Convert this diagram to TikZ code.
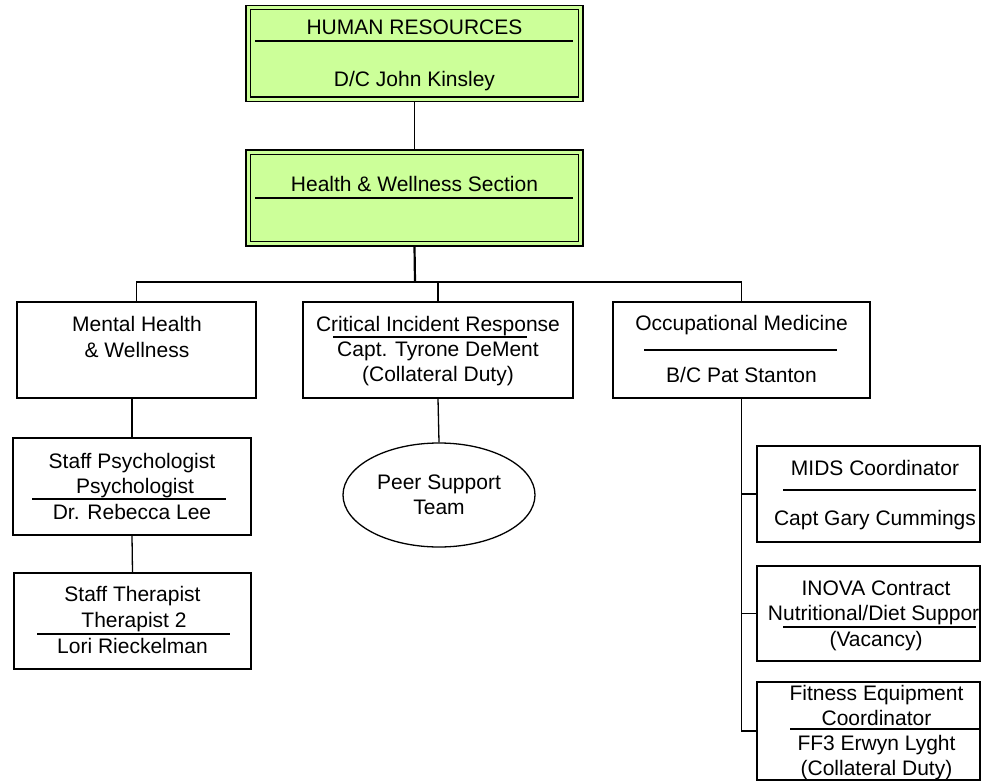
\documentclass[tikz,border=0pt]{standalone}
\usepackage{fontspec}
\setmainfont{Liberation Sans}
\usetikzlibrary{shapes.geometric}
\definecolor{hrgreen}{RGB}{204,255,153}
\tikzset{
  every picture/.style={x=1pt,y=-1pt},
  boxr/.style={draw=black,line width=1.3pt,fill=white,inner sep=0pt,rectangle},
  greenbox/.style={draw=black,line width=1.4pt,fill=hrgreen,inner sep=0pt,rectangle,minimum width=337pt,minimum height=96pt},
  txt/.style={inner sep=0pt,text height=15pt,text depth=0pt,font=\fontsize{21}{25}\selectfont},
  sep/.style={line width=1.3pt},
  conn/.style={line width=1.3pt},
}
\begin{document}
\begin{tikzpicture}
\useasboundingbox[fill=white] (0,0) rectangle (981,781);

% Human Resources
\node[greenbox] (hr) at (414.5,53.5) {};
\draw[line width=1.4pt] ([shift={(5,5)}]hr.north west) rectangle ([shift={(-5,-5)}]hr.south east);
\draw[sep] (255,41) -- (573,41);
\node[txt] (hrt1) at (414.5,27) {HUMAN RESOURCES};
\node[txt] (hrt2) at (414.5,79) {D/C John Kinsley};

% Health & Wellness
\node[greenbox] (hw) at (414.5,198) {};
\draw[line width=1.4pt] ([shift={(5,5)}]hw.north west) rectangle ([shift={(-5,-5)}]hw.south east);
\draw[sep] (255,198) -- (573,198);
\node[txt] (hwt1) at (414.5,184) {Health \& Wellness Section};

% Level 2
\node[boxr,minimum width=239pt,minimum height=96pt] (mh) at (136.5,350) {};
\node[txt] (mht1) at (137,324) {Mental Health};
\node[txt] (mht2) at (137,350) {\& Wellness};

\node[boxr,minimum width=270pt,minimum height=96pt] (cir) at (438,350) {};
\node[txt] (cirt1) at (438,324) {Critical Incident Response};
\draw[sep] (333,337) -- (527,337);
\node[txt] (cirt2) at (438,349) {Capt. Tyrone DeMent};
\node[txt] (cirt3) at (438,374) {(Collateral Duty)};

\node[boxr,minimum width=257pt,minimum height=96pt] (om) at (741.5,350) {};
\node[txt] (omt1) at (741.5,323) {Occupational Medicine};
\draw[sep] (644,350) -- (837,350);
\node[txt] (omt2) at (741.5,375) {B/C Pat Stanton};

% Mental health chain
\node[boxr,minimum width=238pt,minimum height=97pt] (sp) at (132,486.5) {};
\node[txt] (spt1) at (132,461) {Staff Psychologist};
\node[txt] (spt2) at (135,486) {Psychologist};
\draw[sep] (32,499) -- (226,499);
\node[txt] (spt3) at (132,512) {Dr. Rebecca Lee};

\node[boxr,minimum width=237pt,minimum height=96pt] (st) at (132.5,621) {};
\node[txt] (stt1) at (132.5,594) {Staff Therapist};
\node[txt] (stt2) at (134,620) {Therapist 2};
\draw[sep] (37,634) -- (230,634);
\node[txt] (stt3) at (132.5,646) {Lori Rieckelman};

% Peer support
\node[draw,line width=1.3pt,ellipse,minimum width=192pt,minimum height=104pt,inner sep=0pt] (ps) at (439,495) {};
\node[txt] (pst1) at (439,482) {Peer Support};
\node[txt] (pst2) at (439,507) {Team};

% Occupational medicine chain
\node[boxr,minimum width=223pt,minimum height=96pt] (mids) at (868.5,494) {};
\node[txt] (midst1) at (875,468) {MIDS Coordinator};
\draw[sep] (783,490) -- (976,490);
\node[txt] (midst2) at (875,518) {Capt Gary Cummings};

\node[boxr,minimum width=223pt,minimum height=95pt] (inova) at (868.5,613.5) {};
\node[txt] (inovat1) at (876,588) {INOVA Contract};
\begin{scope}
\clip (757,566) rectangle (979,661);
\node[txt] (inovat2) at (876.5,613) {Nutritional/Diet Support};
\end{scope}
\draw[sep] (783,627) -- (976,627);
\node[txt] (inovat3) at (876,639) {(Vacancy)};

\node[boxr,minimum width=223pt,minimum height=98pt] (fit) at (868.5,731) {};
\node[txt] (fitt1) at (876.5,693) {Fitness Equipment};
\node[txt] (fitt2) at (876.5,718) {Coordinator};
\draw[sep] (790,729) -- (980,729);
\node[txt] (fitt3) at (876.5,743) {FF3 Erwyn Lyght};
\node[txt] (fitt4) at (876.5,768) {(Collateral Duty)};

% Connectors
\coordinate (bus) at (415,282);
\draw[conn] (hr.south) -- (hw.north);
\draw[line width=2.2pt] (hw.south) -- (bus);
\draw[conn] (mh.north) |- (bus) -| (om.north);
\draw[conn] (cir.north) -- (cir.north |- bus);
\draw[conn] (sp.north) -- (sp.north |- mh.south);
\draw[conn] (sp.south) -- (st.north);
\draw[conn] (cir.south) -- (ps.north);
\coordinate (omend) at (om.south |- fit.west);
\draw[conn] (om.south) -- (omend) -- (fit.west);
\draw[conn] (om.south |- mids.west) -- (mids.west);
\draw[conn] (om.south |- inova.west) -- (inova.west);
\end{tikzpicture}
\end{document}
